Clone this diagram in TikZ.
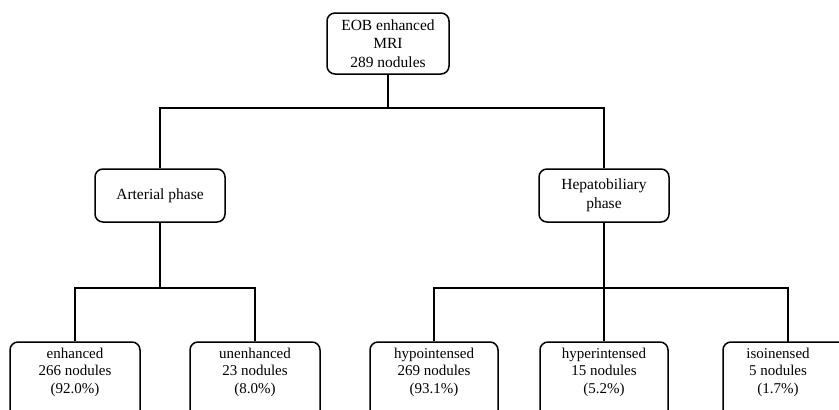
\documentclass[tikz,border=0pt]{standalone}
\usepackage{fontspec}
\setmainfont{Liberation Serif}
\begin{document}
\begin{tikzpicture}[x=1pt,y=-1pt,
  box/.style={draw=black, line width=1.5pt, rounded corners=8pt, fill=white,
    align=center, inner sep=2pt, font=\fontsize{15.5}{18.5}\selectfont},
  bbox/.style={draw=black, line width=1.5pt, rounded corners=8pt, fill=white,
    minimum width=128pt, minimum height=80pt, inner sep=0pt},
  btxt/.style={align=center, anchor=center, inner sep=0pt,
    font=\fontsize{15}{17.5}\selectfont},
  conn/.style={draw=black, line width=2.6pt}]
\useasboundingbox (0,0) rectangle (839,410);
\clip (0,0) rectangle (839,410);
\fill[white] (0,0) rectangle (839,410);

% top
\node[box, minimum width=122pt, minimum height=61pt] (top) at (388,43.5)
  {EOB enhanced\\MRI\\289 nodules};
% middle
\node[box, minimum width=130pt, minimum height=53pt] (art) at (160,195.5) {Arterial phase};
\node[box, minimum width=130pt, minimum height=53pt] (hep) at (604,195.5) {Hepatobiliary\\phase};

% junctions
\coordinate (j1) at (top.south |- 0,108);
\coordinate (j2) at (art.south |- 0,288);
\coordinate (j3) at (hep.south |- 0,288);
\coordinate (isotop) at (788,342);

% bottom boxes
\node[bbox, minimum width=130pt] (enh) at (75,382) {};
\node[bbox, minimum width=130pt] (unenh) at (255,382) {};
\node[bbox] (hypo) at (434,382) {};
\node[bbox] (hyper) at (604,382) {};
\node[bbox, minimum width=130pt] (iso) at (788,382) {};

\node[btxt] (enht) at ([yshift=-31pt]enh.north) {enhanced\\266 nodules\\(92.0\%)};
\node[btxt] (unenht) at ([yshift=-31pt]unenh.north) {unenhanced\\23 nodules\\(8.0\%)};
\node[btxt] (hypot) at ([yshift=-31pt]hypo.north) {hypointensed\\269 nodules\\(93.1\%)};
\node[btxt] (hypert) at ([yshift=-31pt]hyper.north) {hyperintensed\\15 nodules\\(5.2\%)};
\node[btxt] (isot) at ([xshift=-10pt,yshift=-31pt]iso.north) {isoinensed\\5 nodules\\(1.7\%)};

% connectors
\draw[conn] (top.south) -- (j1);
\draw[conn] (art.north) |- (j1) -| (hep.north);
\draw[conn] (art.south) -- (j2);
\draw[conn] (enh.north) |- (j2) -| (unenh.north);
\draw[conn] (hep.south) -- (hyper.north);
\draw[conn] (hypo.north) |- (j3) -| (isotop);
\end{tikzpicture}
\end{document}
